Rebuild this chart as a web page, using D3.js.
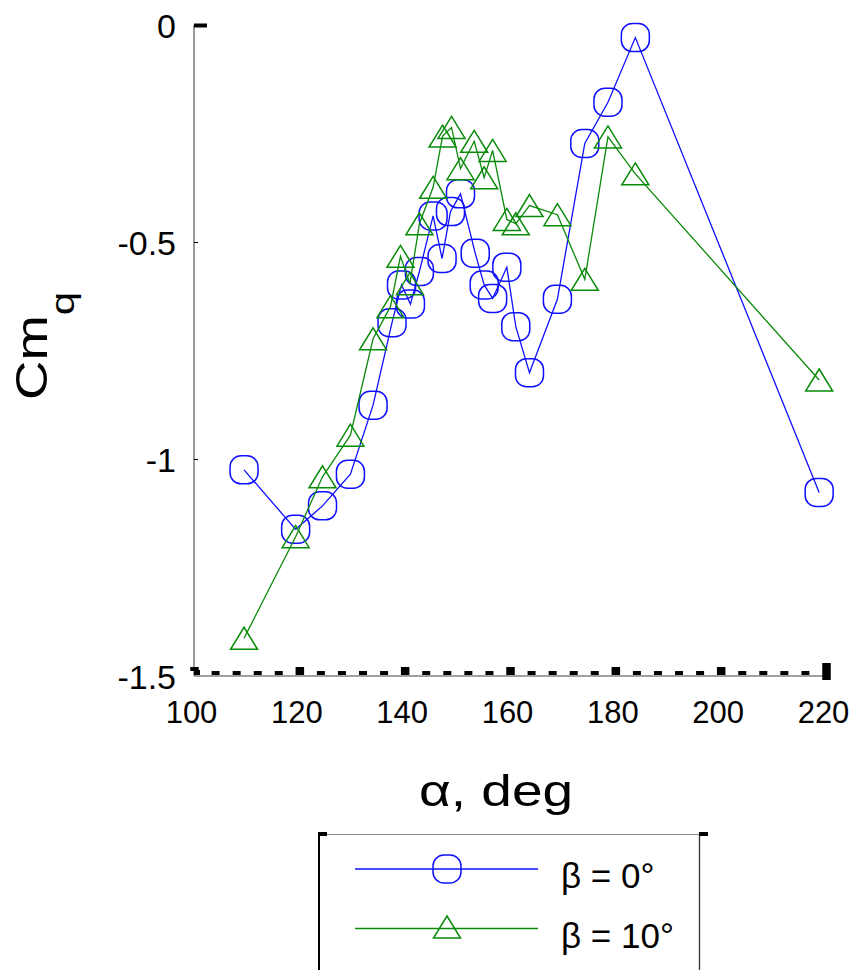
<!DOCTYPE html>
<html>
<head>
<meta charset="utf-8">
<script src="https://cdn.jsdelivr.net/npm/d3@7"></script>
<style>
  html, body { margin: 0; padding: 0; background: #fff; }
  svg { display: block; font-family: "Liberation Sans", Arial, sans-serif; }
</style>
</head>
<body>
<svg id="chart" width="851" height="970"></svg>
<script>
// ---- data ----
const alphaB0 = [109.5,119.3,124.4,129.7,134.0,137.6,139.4,141.1,142.8,145.4,147.1,148.7,150.6,153.4,155.1,156.7,159.4,161.1,163.7,169.0,174.2,178.6,183.8,218.7];
const cmqB0   = [-1.025,-1.162,-1.108,-1.035,-0.876,-0.686,-0.599,-0.643,-0.568,-0.440,-0.538,-0.430,-0.389,-0.526,-0.599,-0.630,-0.558,-0.695,-0.801,-0.632,-0.273,-0.178,-0.029,-1.077];
const alphaB10 = [109.5,119.3,124.4,129.7,134.0,137.3,139.2,141.0,142.8,145.4,147.2,148.9,150.6,153.2,155.1,156.7,159.4,161.1,163.7,169.0,174.2,178.6,183.8,218.7];
const cmqB10   = [-1.413,-1.179,-1.041,-0.945,-0.723,-0.649,-0.533,-0.596,-0.458,-0.374,-0.256,-0.236,-0.331,-0.268,-0.352,-0.289,-0.448,-0.458,-0.416,-0.437,-0.586,-0.258,-0.343,-0.818];
const xTicks = [100,120,140,160,180,200,220];
const xMinorTicks = d3.range(100, 221, 4).filter(v => v % 20 !== 0);
const yTicks = [0,-0.5,-1,-1.5];
const yTickLabels = ["0","-0.5","-1","-1.5"];
const seriesNames = ["\u03B2 = 0\u00B0", "\u03B2 = 10\u00B0"];
const seriesColors = ["#1010ff", "#0a8a0a"];

// ---- scales ----
const svg = d3.select("#chart");
const x = d3.scaleLinear().domain([100,220]).range([194,826]);
const y = d3.scaleLinear().domain([0,-1.5]).range([25,676]);

// ---- axes ----
svg.append("line").attr("x1",x(100)).attr("x2",x(100)).attr("y1",y(0)).attr("y2",y(-1.5))
  .attr("stroke","#808080").attr("stroke-width",1.6);
svg.append("line").attr("x1",x(100)).attr("x2",x(220)).attr("y1",y(-1.5)).attr("y2",y(-1.5))
  .attr("stroke","#808080").attr("stroke-width",1.6);

const xMinor = svg.append("g").attr("transform",`translate(0,${y(-1.5)-1})`)
  .call(d3.axisTop(x).tickValues(xMinorTicks).tickSize(4).tickFormat(""));
xMinor.select(".domain").remove();
xMinor.selectAll(".tick line").attr("stroke","#000").attr("stroke-width",8);

const xMajor = svg.append("g").attr("transform",`translate(0,${y(-1.5)-1})`)
  .call(d3.axisTop(x).tickValues(xTicks).tickSize(8).tickFormat(""));
xMajor.select(".domain").remove();
xMajor.selectAll(".tick line").attr("stroke","#000").attr("stroke-width",8.5);
xMajor.selectAll(".tick").filter(d => d === 220).select("line").attr("y2",-12).attr("y1",5);
xMajor.selectAll(".tick").filter(d => d === 100).select("line").attr("y2",-8).attr("y1",-4);

const xLab = svg.append("g").attr("transform",`translate(-3,${y(-1.5)})`)
  .call(d3.axisBottom(x).tickValues(xTicks).tickSize(0).tickPadding(0).tickFormat(d3.format("d")));
xLab.select(".domain").remove();
xLab.selectAll("text").attr("font-size",31).attr("font-family","Liberation Sans, Arial, sans-serif")
  .attr("fill","#000").attr("dy",null).attr("y",47);

const yAx = svg.append("g").attr("transform",`translate(${x(100)},0)`)
  .call(d3.axisRight(y).tickValues(yTicks).tickSize(4).tickFormat(""));
yAx.select(".domain").remove();
yAx.selectAll(".tick line").attr("stroke","#000").attr("stroke-width",1);
yAx.selectAll(".tick").filter(d => d === 0).select("line").attr("x2",13).attr("stroke-width",4);
yAx.selectAll(".tick").filter(d => d === -1.5).select("line").attr("x2",6).attr("stroke-width",5).attr("transform","translate(0,-4)");

const yLab = svg.append("g").attr("transform",`translate(176,0)`)
  .call(d3.axisLeft(y).tickValues(yTicks).tickSize(0).tickPadding(0)
    .tickFormat((d,i) => yTickLabels[i]));
yLab.select(".domain").remove();
yLab.selectAll("text").attr("font-size",34).attr("font-family","Liberation Sans, Arial, sans-serif")
  .attr("fill","#000").attr("dy","0.36em").attr("x",0);

// axis titles
svg.append("text").attr("transform","translate(496,806) scale(1.25,1)")
  .attr("text-anchor","middle").attr("font-size",44).attr("fill","#000")
  .text("\u03B1, deg");

const yt = svg.append("text").attr("transform","translate(47,400) rotate(-90) scale(1.24,1)")
  .attr("font-size",44).attr("fill","#000");
yt.append("tspan").text("Cm");
yt.append("tspan").attr("font-size",34).attr("dy",27).text("q");

// ---- markers ----
function drawCircle(g, cx, cy, color) {
  g.append("rect").attr("x",cx-14).attr("y",cy-14).attr("width",28).attr("height",28)
    .attr("rx",11).attr("ry",11).attr("fill","none").attr("stroke",color).attr("stroke-width",1.5);
}
function drawTri(g, cx, cy, color) {
  g.append("path").attr("d",`M${cx},${cy-11}L${cx+13.5},${cy+11}L${cx-13.5},${cy+11}Z`)
    .attr("fill","none").attr("stroke",color).attr("stroke-width",1.5).attr("stroke-linejoin","miter");
}

const line = d3.line().x(d => x(d[0])).y(d => y(d[1]));
const data0 = alphaB0.map((a,i) => [a, cmqB0[i]]);
const data10 = alphaB10.map((a,i) => [a, cmqB10[i]]);

const g0 = svg.append("g");
g0.append("path").datum(data0).attr("d",line).attr("fill","none").attr("stroke",seriesColors[0]).attr("stroke-width",1.3);
data0.forEach(d => drawCircle(g0, x(d[0]), y(d[1]), seriesColors[0]));

const g1 = svg.append("g");
g1.append("path").datum(data10).attr("d",line).attr("fill","none").attr("stroke",seriesColors[1]).attr("stroke-width",1.3);
data10.forEach(d => drawTri(g1, x(d[0]), y(d[1]), seriesColors[1]));

// ---- legend ----
const lg = svg.append("g");
lg.append("line").attr("x1",318).attr("x2",700).attr("y1",834.5).attr("y2",834.5).attr("stroke","#888").attr("stroke-width",1);
lg.append("line").attr("x1",319).attr("x2",319).attr("y1",834).attr("y2",970).attr("stroke","#000").attr("stroke-width",2);
lg.append("line").attr("x1",699.5).attr("x2",699.5).attr("y1",834).attr("y2",970).attr("stroke","#333").attr("stroke-width",1.3);
lg.append("rect").attr("x",318).attr("y",832).attr("width",9).attr("height",4).attr("fill","#000");
lg.append("rect").attr("x",699).attr("y",832).attr("width",9).attr("height",4).attr("fill","#000");

const legY = [869, 928.5];
[0,1].forEach(i => {
  lg.append("line").attr("x1",355).attr("x2",538).attr("y1",legY[i]).attr("y2",legY[i])
    .attr("stroke",seriesColors[i]).attr("stroke-width",1.3);
  if (i === 0) drawCircle(lg, 447, legY[i], seriesColors[i]);
  else drawTri(lg, 447, legY[i] - 1.5, seriesColors[i]);
  lg.append("text").attr("x",561).attr("y",legY[i] + 19).attr("font-size",35).attr("fill","#000")
    .text(seriesNames[i]);
});
</script>
</body>
</html>
